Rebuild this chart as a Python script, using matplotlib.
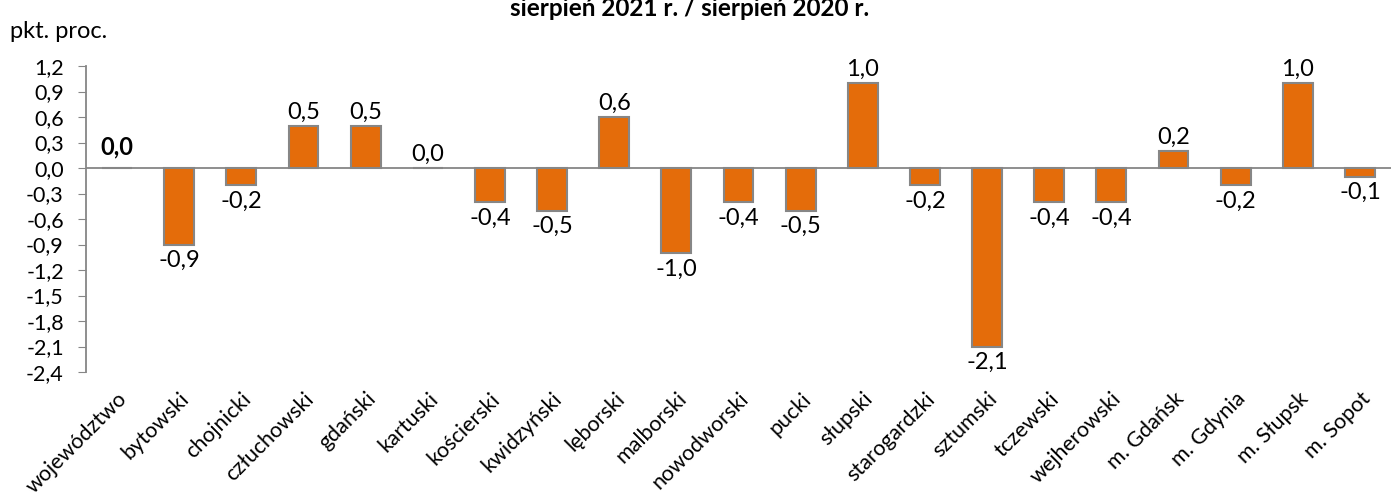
import matplotlib
matplotlib.use("Agg")
import matplotlib.pyplot as plt
from matplotlib.ticker import FixedLocator

plt.rcParams["font.family"] = ["Lato", "DejaVu Sans"]

categories = [
    "województwo", "bytowski", "chojnicki", "człuchowski", "gdański", "kartuski",
    "kościerski", "kwidzyński", "lęborski", "malborski", "nowodworski", "pucki",
    "słupski", "starogardzki", "sztumski", "tczewski", "wejherowski",
    "m. Gdańsk", "m. Gdynia", "m. Słupsk", "m. Sopot",
]
values = [0.0, -0.9, -0.2, 0.5, 0.5, 0.0, -0.4, -0.5, 0.6, -1.0, -0.4, -0.5,
          1.0, -0.2, -2.1, -0.4, -0.4, 0.2, -0.2, 1.0, -0.1]
yticks = [1.2, 0.9, 0.6, 0.3, 0.0, -0.3, -0.6, -0.9, -1.2, -1.5, -1.8, -2.1, -2.4]

ORANGE = "#E46C0A"
GREY = "#868686"

fig = plt.figure(figsize=(14, 4.97), dpi=100)
ax = fig.add_axes([86 / 1400, 1 - 372 / 497, (1391 - 86) / 1400, (372 - 66) / 497])

x = list(range(len(categories)))
ax.bar(x, values, width=0.48, color=ORANGE, edgecolor=GREY, linewidth=1.5, zorder=3)

ax.set_xlim(-0.5, len(categories) - 0.5)
ax.set_ylim(-2.4, 1.2)
ax.axhline(0, color=GREY, linewidth=1.3, zorder=2)

for s in ("top", "right", "bottom"):
    ax.spines[s].set_visible(False)
ax.spines["left"].set_color(GREY)
ax.spines["left"].set_linewidth(1.3)

ax.yaxis.set_major_locator(FixedLocator(yticks))
ax.set_yticklabels([f"{v:.1f}".replace(".", ",") for v in yticks], fontsize=15.5)
ax.tick_params(axis="y", direction="out", length=6, color=GREY, pad=10)

ax.set_xticks(x)
ax.set_xticklabels(categories, rotation=45, ha="right", va="top",
                   rotation_mode="anchor", fontsize=15.5)
ax.tick_params(axis="x", length=0, pad=12)

for i, v in enumerate(values):
    label = f"{v:.1f}".replace(".", ",")
    if i == 0:
        ax.annotate(label, (i, v), xytext=(0, 7), textcoords="offset points",
                    ha="center", va="bottom", fontsize=17, fontweight="bold")
    elif v > 0 or i == 5:
        ax.annotate(label, (i, v), xytext=(0, 2), textcoords="offset points",
                    ha="center", va="bottom", fontsize=17)
    else:
        ax.annotate(label, (i, v), xytext=(0, -4), textcoords="offset points",
                    ha="center", va="top", fontsize=17)

fig.text(690 / 1400, 1 - 9 / 497, "sierpień 2021 r. / sierpień 2020 r.",
         ha="center", va="center", fontsize=17.5, fontweight="bold")
fig.text(10 / 1400, 1 - 31 / 497, "pkt. proc.", ha="left", va="center", fontsize=17)

fig.savefig("out.png", dpi=100)
